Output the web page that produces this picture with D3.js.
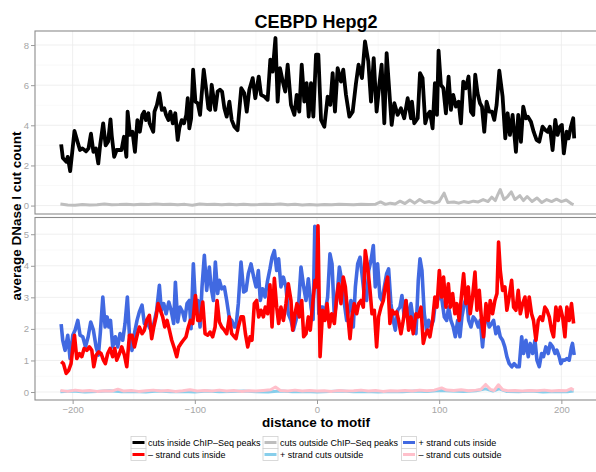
<!DOCTYPE html>
<html>
<head>
<meta charset="utf-8">
<script src="https://cdn.jsdelivr.net/npm/d3@7"></script>
<style>
  html, body { margin: 0; padding: 0; background: #fff; }
  svg { display: block; font-family: "Liberation Sans", Arial, Helvetica, sans-serif; }
</style>
</head>
<body>
<svg id="chart" width="596" height="472"></svg>
<script>
// Average DNase I cut counts around CEBPD motifs (HepG2), [distance, count]
const cutsInside = [
  [-209.4,3.05],[-208,2.37],[-205,2.18],[-204,2.43],[-202,1.72],[-200,2.85],[-198.5,3.72],[-196,3.18],[-194,2.77],[-192,2.85],
  [-189,2.7],[-187,2.85],[-185,3.58],[-183,2.68],[-181,2.85],[-179,2.1],[-177.5,3.0],[-175,4.1],[-173,3.0],[-171,3.18],
  [-169,4.3],[-168,3.5],[-166,2.43],[-164,2.77],[-162,2.77],[-160,2.77],[-158,3.43],[-156,2.43],[-155,4.68],[-153,3.52],
  [-151,3.68],[-149,2.68],[-147,4.26],[-145,3.68],[-143,4.52],[-141.5,4.68],[-140,4.26],[-138,4.6],[-137,4.1],[-134,3.68],
  [-133,4.68],[-131,5.02],[-129,5.6],[-127,4.77],[-125,4.85],[-123.5,4.52],[-121.6,4.26],[-120,4.68],[-118,4.1],[-116,4.6],
  [-114,3.27],[-112.6,3.88],[-110.7,4.26],[-108.8,4.1],[-107,4.52],[-105.8,5.35],[-104.5,3.85],[-103,4.35],[-101.4,6.77],[-99.5,5.18],
  [-97.6,5.1],[-95.7,4.52],[-94.4,5.52],[-92.7,6.77],[-90.8,5.85],[-88.9,4.85],[-87.5,4.77],[-86.2,6.02],[-84.8,5.43],[-83.2,4.77],
  [-81.3,5.68],[-79.4,5.77],[-77.7,5.68],[-75.8,4.85],[-73.9,4.43],[-71.7,5.18],[-69.8,4.26],[-67.6,3.93],[-65,3.76],[-62,5.85],
  [-59.5,5.6],[-57.5,4.68],[-55.4,5.77],[-52.6,6.35],[-50.5,5.35],[-47.7,6.43],[-45.8,5.52],[-43,5.43],[-40.4,5.27],[-38.2,7.27],
  [-36.3,6.68],[-34,8.35],[-32.2,5.18],[-30.3,6.85],[-28,6.18],[-26,5.68],[-24,7.02],[-21.3,5.02],[-18.5,4.52],[-16.6,5.52],
  [-14.5,4.68],[-12.5,7.02],[-10.4,5.18],[-8.5,6.1],[-6.8,4.43],[-4.9,6.1],[-3,4.43],[-0.8,7.52],[1.1,7.52],[3.3,4.27],
  [6,3.93],[8.7,5.43],[10.9,5.02],[12.8,6.6],[14.7,4.68],[16.9,6.85],[19.6,6.18],[21.5,6.77],[23.7,5.52],[26.5,4.43],
  [29.2,4.68],[31.9,6.1],[34,7.02],[36.8,6.35],[39.3,8.18],[42,7.18],[44.2,5.18],[46.4,7.35],[48.8,4.68],[51,6.02],
  [52.9,7.02],[55.1,4.1],[57,7.6],[59.2,5.68],[61.1,4.02],[63.3,5.1],[66,4.52],[68.7,4.85],[71.4,4.35],[74.2,5.35],
  [76.9,4.35],[77.7,5.18],[79.6,4.1],[82.4,4.35],[84.3,6.6],[86.4,6.35],[88.6,4.1],[90.5,4.52],[92.4,4.68],[94.6,3.85],
  [96.5,6.1],[98.2,4.52],[99.5,7.72],[101.4,6.02],[103.4,5.85],[105.5,4.6],[107.7,6.43],[109.6,4.77],[111.5,5.52],[113.7,4.93],
  [115.9,5.18],[117.8,4.1],[119.7,6.18],[121.9,5.85],[124,6.43],[126,4.68],[127.9,4.52],[129.5,6.52],[131.4,5.6],[133.4,5.1],
  [135,4.93],[136.9,3.68],[138.8,5.18],[141,4.68],[143.2,4.68],[145.1,4.27],[147,5.02],[149.2,6.72],[151.9,5.43],[154.1,3.35],
  [156,4.6],[157.9,3.52],[160.1,4.52],[162.8,2.68],[164.7,4.52],[166.9,3.18],[168.8,4.93],[171,4.35],[172.6,4.43],[175.1,4.18],
  [177.3,3.68],[179.7,3.27],[181.9,3.18],[184.6,3.93],[186.8,3.77],[188.7,3.68],[190.6,3.93],[192.8,2.77],[195,4.27],[196.9,3.52],
  [198.8,3.93],[200.4,4.02],[202,2.6],[204.3,3.68],[205.9,3.35],[207.8,3.93],[209.7,4.35],[210.5,3.35]
];

const cutsOutside = [
  [-210,0.08],[-204,0.03],[-198,0.02],[-192,0.05],[-186,0.03],[-180,0.04],[-174,0.08],[-168,0.04],[-162,0.05],[-156,0.07],
  [-150,0.04],[-144,0.06],[-138,0.05],[-132,0.08],[-126,0.05],[-120,0.07],[-114,0.04],[-108,0.06],[-102,0.02],[-96,0.08],
  [-90,0.05],[-84,0.06],[-78,0.04],[-72,0.06],[-66,0.04],[-60,0.07],[-54,0.04],[-48,0.05],[-42,0.07],[-36,0.05],
  [-30,0.08],[-24,0.04],[-18,0.06],[-12,0.03],[-6,0.05],[0,0.03],[6,0.05],[12,0.04],[18,0.06],[24,0.05],
  [30,0.04],[36,0.06],[42,0.05],[48,0.07],[52,0.18],[56,0.06],[60,0.12],[64,0.08],[68,0.22],[72,0.1],
  [76,0.28],[80,0.12],[84,0.3],[88,0.15],[92,0.2],[96,0.12],[100,0.2],[104,0.62],[107,0.15],[112,0.18],
  [116,0.12],[120,0.2],[124,0.15],[128,0.22],[132,0.18],[136,0.3],[140,0.2],[143,0.42],[146,0.25],[148,0.55],
  [150,0.8],[153,0.3],[156,0.45],[159,0.68],[162,0.3],[166,0.5],[169,0.25],[172,0.45],[176,0.2],[180,0.38],
  [184,0.15],[188,0.3],[192,0.2],[196,0.32],[200,0.2],[204,0.28],[208,0.1],[210,0.05]
];

const plusInside = [
  [-209.4,2.15],[-208.1,1.64],[-206.2,1.32],[-204,1.8],[-202.1,1.06],[-199.9,1.8],[-198,1.96],[-195.8,2.27],[-193.9,1.8],[-191.7,1.75],
  [-189.5,1.43],[-187.3,1.75],[-185.2,2.22],[-183,1.96],[-180.8,1.43],[-178.9,1.17],[-177.3,1.9],[-175.3,3.01],[-173.4,2.06],[-171.8,2.38],
  [-170.4,2.06],[-169,2.27],[-167.2,1.43],[-165,1.75],[-163.1,1.43],[-161.2,1.85],[-159,1.64],[-157.1,2.17],[-155.2,3.01],[-153.5,1.8],
  [-151.4,1.32],[-149.2,1.9],[-147.3,2.27],[-145.4,2.54],[-143.2,2.75],[-141.3,2.17],[-139.4,2.27],[-137.3,2.06],[-135,1.9],[-133,2.27],
  [-131.2,2.59],[-129,3.38],[-127.4,2.59],[-125.4,2.8],[-123.5,2.48],[-121.3,2.85],[-119.4,2.59],[-117.3,2.17],[-115.9,3.48],[-114,2.22],
  [-112.1,2.69],[-110,2.54],[-108.3,2.27],[-106.4,2.8],[-104.5,2.9],[-103.1,2.01],[-101.2,4.06],[-99.5,2.8],[-97.6,2.9],[-95.7,2.06],
  [-94.1,3.33],[-92.2,4.33],[-90.3,3.22],[-88.1,3.96],[-86.7,3.33],[-84.8,2.9],[-83.2,4.12],[-81.3,3.12],[-79.9,3.54],[-78,3.27],
  [-75.8,3.33],[-73.9,2.9],[-71.7,2.33],[-69.8,2.27],[-67.6,2.06],[-66.3,2.06],[-64.4,2.8],[-62.2,4.12],[-60,3.17],[-58.1,3.22],
  [-56.2,3.75],[-54,4.06],[-51.8,3.64],[-49.9,3.33],[-48,3.85],[-46.4,2.9],[-44.5,3.27],[-42.5,3.01],[-40.4,3.54],[-38.5,3.9],
  [-36.8,4.27],[-34.9,4.48],[-33,3.85],[-31.4,4.22],[-29.5,3.33],[-27.5,3.64],[-25.4,3.33],[-23.5,2.48],[-21.3,2.27],[-19.4,1.96],
  [-17.2,2.27],[-15,2.8],[-13.1,3.96],[-10.9,3.33],[-9,2.9],[-7.1,3.59],[-4.9,2.69],[-3.2,2.3],[-1.8,5.25],[-0.5,5.2],
  [1.5,2.48],[3.3,2.69],[4.6,2.69],[6.5,2.48],[8.7,3.01],[10.6,4.38],[12.3,4.06],[14.2,2.38],[16.1,2.9],[18.3,3.96],
  [20.2,3.54],[22.4,2.8],[24.3,2.27],[25.9,2.59],[27.8,2.9],[29.7,2.06],[31.4,3.33],[33.3,4.06],[35.2,4.27],[36.8,3.75],
  [38.7,3.06],[40.6,2.9],[42.3,3.85],[44.2,4.17],[46.1,4.64],[47.7,3.33],[49.6,4.06],[51.5,3.01],[53.2,2.9],[55.1,3.33],
  [57,3.75],[58.6,3.9],[60.5,2.8],[62.4,2.27],[64.1,1.96],[66,2.59],[67.9,2.69],[69.5,3.06],[71.4,2.38],[72.8,2.9],
  [75,2.27],[76.9,2.8],[78.8,2.27],[81,1.85],[82.9,3.54],[84.3,4.22],[85.9,3.85],[87.8,2.48],[89.7,1.96],[91.4,2.27],
  [93.3,2.06],[95.2,2.27],[96.8,2.8],[98.7,2.9],[100.6,3.12],[102.3,2.9],[104.2,2.38],[106.1,2.27],[107.7,2.69],[109.6,2.27],
  [111.5,2.06],[113.2,1.75],[115.1,2.27],[117,1.75],[118.6,2.38],[120.5,2.8],[122.4,3.01],[124.1,2.27],[126,2.06],[127.9,2.38],
  [130,2.27],[132,2.06],[133.6,2.27],[135.5,1.43],[137.4,2.27],[139.1,2.38],[141,2.06],[142.9,2.17],[144.5,2.27],[146.4,1.85],
  [148.3,2.06],[150,1.75],[151.9,1.64],[153.7,1.43],[155.4,1.12],[157.3,0.9],[159.5,0.8],[161.4,0.9],[163.6,0.8],[165.5,0.8],
  [167.5,1.75],[169.1,1.22],[171,1.64],[172.9,1.12],[174.5,1.54],[176.5,1.22],[178.4,1.64],[180,1.01],[181.9,0.8],[183.8,1.22],
  [185.4,1.12],[187.3,1.43],[189.3,1.22],[190.9,1.54],[192.9,1.43],[194.8,1.22],[196.3,1.33],[198.2,1.12],[199.6,0.9],[201,1.01],
  [202.9,1.01],[204.5,1.06],[206.4,1.01],[208.3,1.43],[209.1,1.54],[210.5,1.17]
];

const minusInside = [
  [-209.4,0.96],[-207.5,0.9],[-205.3,0.59],[-203.2,0.69],[-201.3,0.9],[-199.9,1.38],[-198.5,1.8],[-196.6,1.06],[-194.4,1.22],[-192.5,1.12],
  [-190.6,1.38],[-188.4,1.32],[-186.3,1.43],[-184.3,1.32],[-182.7,0.8],[-180.8,1.17],[-178.6,1.27],[-176.7,1.22],[-174.8,1.01],[-173.2,0.9],
  [-171.3,1.22],[-169.3,1.38],[-167.2,1.12],[-165.5,1.38],[-163.9,1.01],[-161.7,1.22],[-159.8,1.43],[-157.6,1.17],[-155.7,0.8],[-153.5,1.8],
  [-151.4,1.8],[-149.4,1.43],[-147.5,1.75],[-145.4,2.06],[-143.2,1.85],[-141.3,1.96],[-139.4,2.27],[-137.2,2.43],[-135.3,1.69],[-133.6,2.06],
  [-131.7,2.38],[-130.1,2.8],[-128.2,2.59],[-126.3,2.38],[-124.6,2.06],[-122.7,2.27],[-120.8,1.96],[-118.9,1.64],[-116.7,1.38],[-114.8,1.12],
  [-113.2,1.43],[-111.3,1.54],[-109.4,1.64],[-107.2,1.75],[-105.3,2.06],[-103.6,2.27],[-101.7,2.17],[-99.5,3.06],[-97.6,2.27],[-95.7,2.27],
  [-93.5,2.85],[-91.6,1.85],[-89.4,1.8],[-87.5,1.9],[-85.4,1.75],[-83.4,2.06],[-81.8,2.9],[-79.9,2.22],[-78,2.06],[-75.8,1.96],
  [-73.9,1.85],[-71.7,2.38],[-69.8,1.85],[-67.6,1.75],[-66.3,1.69],[-64.4,2.06],[-62.2,2.38],[-60.3,2.38],[-58.6,1.85],[-56.7,1.43],
  [-54.8,1.75],[-53.2,1.64],[-51.3,2.8],[-49.4,2.9],[-47.7,2.38],[-45.8,2.59],[-43.9,2.38],[-42.3,2.69],[-40.4,2.48],[-38.5,3.4],
  [-36.8,2.06],[-34.9,3.6],[-33,2.69],[-31.4,2.17],[-29.5,2.69],[-27.5,2.27],[-25.4,2.8],[-23.5,3.43],[-21.3,2.9],[-19.9,1.96],
  [-18,2.48],[-16.4,2.8],[-14.5,2.38],[-12.5,2.9],[-10.9,1.75],[-9,1.85],[-7.1,2.38],[-5.5,1.96],[-3.5,2.8],[-1.6,3.54],
  [-0.3,3.33],[0.8,5.27],[2.5,1.12],[4.6,2.59],[6.5,2.27],[8.2,2.8],[10.1,2.06],[12,2.48],[14.2,2.17],[16.1,3.01],
  [17.7,3.43],[19.6,2.8],[21.5,3.64],[23.2,3.33],[25.1,2.48],[27,1.69],[28.6,2.38],[30.5,2.8],[32.5,2.48],[34.1,2.8],
  [36,2.9],[37.9,2.69],[39.5,4.48],[41.5,3.96],[43.4,3.22],[45,2.48],[46.9,2.59],[48.8,1.43],[50.4,2.38],[52.4,2.69],
  [54.3,2.9],[55.9,3.33],[57.8,3.64],[59.7,2.17],[61.4,2.59],[63.3,2.48],[65.2,2.54],[66.8,2.27],[68.7,1.85],[70.6,2.27],
  [72.8,2.9],[75,1.96],[76.9,2.38],[78.8,1.85],[81,2.48],[82.9,2.38],[85.1,2.69],[87,1.54],[88.6,1.8],[90.5,1.96],
  [92.4,1.75],[94.6,2.27],[96.5,3.01],[98.2,2.69],[100.1,3.85],[102,3.01],[103.6,3.64],[105.5,2.69],[107.5,3.43],[109.1,2.69],
  [111,3.12],[112.9,2.48],[114.5,2.8],[116.4,2.27],[118.4,3.12],[120,3.75],[121.9,2.8],[123.8,3.33],[125.4,2.48],[127.3,3.01],
  [129.3,3.8],[130.9,2.59],[132.8,3.22],[134.7,2.27],[136.3,1.75],[138.3,2.8],[140.2,2.27],[141.8,2.9],[143.7,2.48],[145.6,2.9],
  [147.3,3.12],[148.6,4.75],[150,3.85],[151.9,3.22],[153.8,3.33],[155.4,2.59],[157.3,3.01],[159.3,3.54],[160.9,2.69],[162.8,2.59],
  [164.7,3.22],[166.4,2.48],[168.3,2.8],[170.2,3.01],[171.8,2.38],[173.7,3.01],[175.6,2.48],[177.2,2.27],[179.2,1.64],[181.1,2.27],
  [182.7,2.38],[184.6,2.27],[186.5,2.69],[188.2,2.59],[190.1,2.38],[192,1.96],[193.6,1.75],[195.5,2.69],[197.4,2.27],[199.1,2.69],
  [201,2.38],[202.9,1.75],[204.5,2.69],[206.4,2.27],[208.3,2.8],[210,2.17]
];

const plusOutside = [
  [-210,0.01],[-200,0.03],[-190,0.0],[-180,0.02],[-170,0.04],[-160,0.01],[-150,0.02],[-140,0.0],[-130,0.03],[-120,0.01],
  [-110,0.02],[-100,0.0],[-90,0.03],[-80,0.01],[-70,0.02],[-60,0.03],[-50,0.01],[-40,0.0],[-30,0.03],[-20,0.01],
  [-10,0.02],[0,0.0],[10,0.02],[20,0.03],[30,0.01],[40,0.02],[50,0.0],[60,0.02],[70,0.01],[80,0.03],
  [90,0.02],[100,0.05],[110,0.03],[120,0.02],[130,0.04],[138,0.1],[144,0.03],[149,0.1],[155,0.02],[165,0.01],
  [175,0.03],[185,0.0],[195,0.02],[205,0.01],[210,0.03]
];

const minusOutside = [
  [-210,0.05],[-204,0.02],[-198,0.06],[-192,0.03],[-186,0.05],[-180,0.02],[-174,0.04],[-168,0.03],[-163,0.09],[-158,0.03],
  [-152,0.05],[-146,0.02],[-140,0.04],[-134,0.06],[-128,0.03],[-122,0.05],[-116,0.02],[-110,0.04],[-104,0.07],[-98,0.03],
  [-92,0.05],[-86,0.03],[-80,0.06],[-74,0.03],[-68,0.05],[-62,0.02],[-56,0.04],[-50,0.03],[-44,0.05],[-38,0.07],
  [-34,0.16],[-30,0.05],[-24,0.03],[-18,0.06],[-12,0.03],[-6,0.05],[0,0.03],[6,0.04],[12,0.02],[18,0.05],
  [24,0.03],[30,0.04],[36,0.06],[42,0.03],[48,0.05],[54,0.02],[60,0.04],[66,0.03],[72,0.05],[78,0.03],
  [84,0.06],[90,0.04],[96,0.06],[102,0.13],[106,0.06],[112,0.05],[118,0.07],[124,0.04],[130,0.06],[134,0.08],
  [138,0.24],[142,0.08],[145,0.05],[148.5,0.23],[152,0.07],[156,0.04],[162,0.05],[168,0.03],[174,0.05],[180,0.04],
  [186,0.06],[192,0.03],[198,0.05],[204,0.04],[208,0.11],[210,0.06]
];

const xTicks = [-200, -100, 0, 100, 200];
const xMinor = [-150, -50, 50, 150];
const topTicks = [0, 2, 4, 6, 8];
const topMinor = [1, 3, 5, 7];
const bottomTicks = [0, 1, 2, 3, 4, 5];
const bottomMinor = [0.5, 1.5, 2.5, 3.5, 4.5];

const legendLabels = [
  "cuts inside ChIP–Seq peaks", "cuts outside ChIP–Seq peaks", "+ strand cuts inside",
  "– strand cuts inside", "+ strand cuts outside", "– strand cuts outside"
];
const legendColors = ["#000000", "#bebebe", "#4169e1", "#ff0000", "#87ceeb", "#ffc0cb"];

const svg = d3.select("#chart");
const panelLeft = 35, panelRight = 599;

const x = d3.scaleLinear().domain([-230.8, 230.8]).range([panelLeft, panelRight]);
const yTop = d3.scaleLinear().domain([-0.42, 8.7]).range([214, 31]);
const yBottom = d3.scaleLinear().domain([-0.253, 5.53]).range([400, 217.5]);

function drawPanel(id, y, ticks, minor, series) {
  const [y1, y0] = y.range();
  const g = svg.append("g");
  g.append("rect").attr("x", panelLeft).attr("y", y0)
    .attr("width", panelRight - panelLeft).attr("height", y1 - y0).attr("fill", "#fff");
  g.append("clipPath").attr("id", id).append("rect")
    .attr("x", panelLeft).attr("y", y0).attr("width", panelRight - panelLeft).attr("height", y1 - y0);

  // minor grid
  g.selectAll(null).data(minor).join("line")
    .attr("x1", panelLeft).attr("x2", panelRight).attr("y1", d => y(d)).attr("y2", d => y(d))
    .attr("stroke", "#f7f7f7").attr("stroke-width", 0.8);
  g.selectAll(null).data(xMinor).join("line")
    .attr("y1", y0).attr("y2", y1).attr("x1", d => x(d)).attr("x2", d => x(d))
    .attr("stroke", "#f7f7f7").attr("stroke-width", 0.8);
  // major grid
  g.selectAll(null).data(ticks).join("line")
    .attr("x1", panelLeft).attr("x2", panelRight).attr("y1", d => y(d)).attr("y2", d => y(d))
    .attr("stroke", "#ebebeb").attr("stroke-width", 0.8);
  g.selectAll(null).data(xTicks).join("line")
    .attr("y1", y0).attr("y2", y1).attr("x1", d => x(d)).attr("x2", d => x(d))
    .attr("stroke", "#ebebeb").attr("stroke-width", 0.8);

  const line = d3.line().x(d => x(d[0])).y(d => y(d[1]));
  const lines = g.append("g").attr("clip-path", `url(#${id})`);
  series.forEach(s => {
    lines.append("path").datum(s.data).attr("d", line)
      .attr("fill", "none").attr("stroke", s.color).attr("stroke-width", s.width)
      .attr("stroke-linejoin", "round").attr("stroke-linecap", "butt");
  });

  g.append("rect").attr("x", panelLeft).attr("y", y0)
    .attr("width", panelRight - panelLeft).attr("height", y1 - y0)
    .attr("fill", "none").attr("stroke", "#8c8c8c").attr("stroke-width", 1.1);

  const axis = g.append("g").attr("transform", `translate(${panelLeft},0)`)
    .call(d3.axisLeft(y).tickValues(ticks).tickSize(4).tickPadding(2).tickFormat(d3.format("d")));
  axis.select(".domain").remove();
  axis.selectAll(".tick line").attr("stroke", "#9a9a9a");
  axis.selectAll(".tick text").attr("fill", "#a6a6a6").attr("font-size", 9.5)
    .attr("font-family", "Liberation Sans, Arial, sans-serif");
}

drawPanel("clipTop", yTop, topTicks, topMinor, [
  { data: cutsInside, color: legendColors[0], width: 3.8 },
  { data: cutsOutside, color: legendColors[1], width: 3 }
]);
drawPanel("clipBottom", yBottom, bottomTicks, bottomMinor, [
  { data: plusInside, color: legendColors[2], width: 3.6 },
  { data: minusInside, color: legendColors[3], width: 3.6 },
  { data: plusOutside, color: legendColors[4], width: 3 },
  { data: minusOutside, color: legendColors[5], width: 3 }
]);

// x axis under the lower panel
const xAxis = svg.append("g").attr("transform", "translate(0,400)")
  .call(d3.axisBottom(x).tickValues(xTicks).tickSize(4).tickPadding(2));
xAxis.select(".domain").remove();
xAxis.selectAll(".tick line").attr("stroke", "#9a9a9a");
xAxis.selectAll(".tick text").attr("fill", "#a6a6a6").attr("font-size", 9.5)
  .attr("font-family", "Liberation Sans, Arial, sans-serif");

// titles
svg.append("text").attr("x", 316).attr("y", 28).attr("text-anchor", "middle")
  .attr("font-size", 18).attr("font-weight", "bold").text("CEBPD Hepg2");
svg.append("text").attr("x", 316).attr("y", 427).attr("text-anchor", "middle")
  .attr("font-size", 13.5).attr("font-weight", "bold").text("distance to motif");
svg.append("text").attr("transform", "translate(21,216) rotate(-90)").attr("text-anchor", "middle")
  .attr("font-size", 13.5).attr("font-weight", "bold").text("average DNase I cut count");

// legend: three columns, two rows, filled column by column
const colX = [131, 263, 401.5];
const rowY = [436.5, 448.5];
const legendOrder = [[0, 0], [1, 0], [2, 0], [0, 1], [1, 1], [2, 1]];
const lg = svg.append("g");
legendLabels.forEach((label, i) => {
  const [c, r] = legendOrder[i];
  const kx = colX[c], ky = rowY[r];
  lg.append("rect").attr("x", kx).attr("y", ky).attr("width", 15).attr("height", 12)
    .attr("fill", "#fff").attr("stroke", "#d0d0d0").attr("stroke-width", 0.8);
  lg.append("line").attr("x1", kx + 1.5).attr("x2", kx + 13.5).attr("y1", ky + 6).attr("y2", ky + 6)
    .attr("stroke", legendColors[i]).attr("stroke-width", 3);
});
legendLabels.forEach((label, i) => {
  const [c, r] = legendOrder[i];
  lg.append("text").attr("x", colX[c] + 17).attr("y", rowY[r] + 6).attr("dy", "0.35em")
    .attr("font-size", 9).attr("fill", "#000").text(label);
});
</script>
</body>
</html>
